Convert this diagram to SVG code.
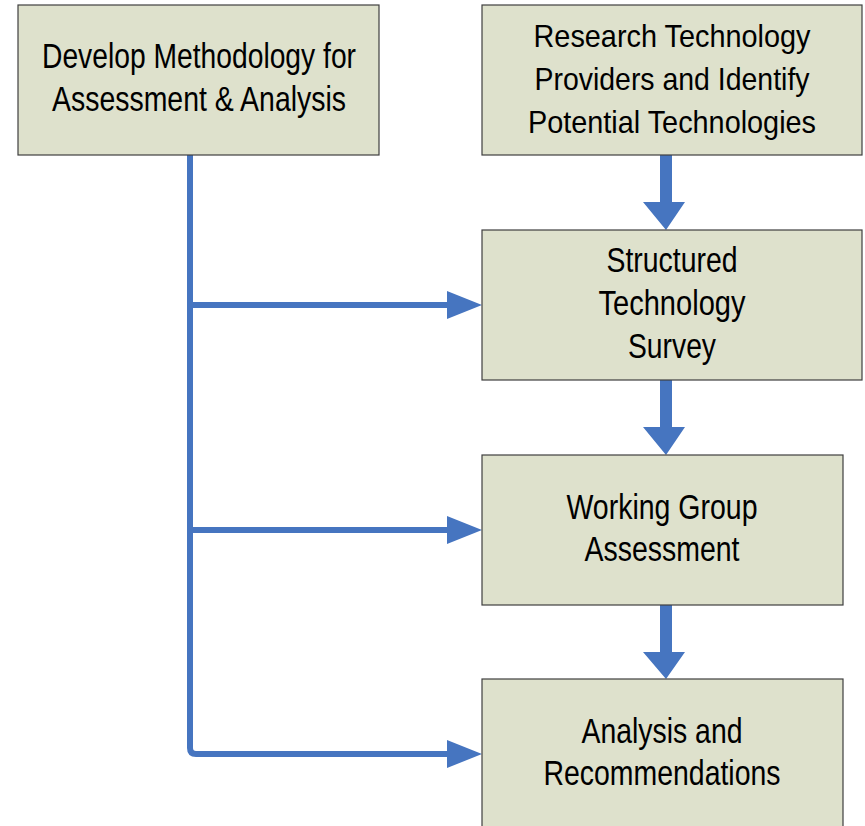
<svg xmlns="http://www.w3.org/2000/svg" width="865" height="826" viewBox="0 0 865 826">
  <style>
    .box { fill: #DEE1CC; stroke: #3F3F3F; stroke-width: 1.2; }
    .lbl { font-family: "Liberation Sans", Arial, sans-serif; font-size: 35px; fill: #000; text-anchor: middle; }
    .sm { font-size: 32px; }
    .line { fill: none; stroke: #4675C0; stroke-width: 6; stroke-linejoin: round; }
    .flow { fill: #4675C0; }
  </style>
  <rect width="865" height="826" fill="#FFFFFF"/>

  <g id="connectors">
    <!-- feeder line from the methodology box with three branches -->
    <path class="line" d="M190,155 V748 Q190,754 196,754 H450"/>
    <path class="line" d="M190,305 H450"/>
    <path class="line" d="M190,530 H450"/>
    <polygon class="flow" points="447,291 482,305 447,319"/>
    <polygon class="flow" points="447,516 482,530 447,544"/>
    <polygon class="flow" points="447,740 482,754 447,768"/>
    <!-- thick downward arrows between the stacked steps -->
    <polygon class="flow" points="660,155 672,155 672,202 685,202 666,230 643,202 660,202"/>
    <polygon class="flow" points="660,380 672,380 672,427 685,427 666,455 643,427 660,427"/>
    <polygon class="flow" points="660,605 672,605 672,652 685,652 666,679 643,652 660,652"/>
  </g>

  <g id="methodology">
    <rect class="box" x="18" y="5" width="361" height="150"/>
    <text class="lbl" x="199" y="68" textLength="314" lengthAdjust="spacingAndGlyphs">Develop Methodology for</text>
    <text class="lbl" x="199" y="111" textLength="294" lengthAdjust="spacingAndGlyphs">Assessment &amp; Analysis</text>
  </g>

  <g id="research">
    <rect class="box" x="482" y="5" width="380" height="150"/>
    <text class="lbl sm" x="672" y="47" textLength="277" lengthAdjust="spacingAndGlyphs">Research Technology</text>
    <text class="lbl sm" x="672" y="90" textLength="275" lengthAdjust="spacingAndGlyphs">Providers and Identify</text>
    <text class="lbl sm" x="672" y="133" textLength="288" lengthAdjust="spacingAndGlyphs">Potential Technologies</text>
  </g>

  <g id="survey">
    <rect class="box" x="482" y="230" width="380" height="150"/>
    <text class="lbl" x="672" y="272" textLength="131" lengthAdjust="spacingAndGlyphs">Structured</text>
    <text class="lbl" x="672" y="315" textLength="147" lengthAdjust="spacingAndGlyphs">Technology</text>
    <text class="lbl" x="672" y="358" textLength="88" lengthAdjust="spacingAndGlyphs">Survey</text>
  </g>

  <g id="assessment">
    <rect class="box" x="482" y="455" width="361" height="150"/>
    <text class="lbl" x="662" y="519" textLength="191" lengthAdjust="spacingAndGlyphs">Working Group</text>
    <text class="lbl" x="662" y="561" textLength="155" lengthAdjust="spacingAndGlyphs">Assessment</text>
  </g>

  <g id="recommendations">
    <rect class="box" x="482" y="679" width="361" height="160"/>
    <text class="lbl" x="662" y="743" textLength="161" lengthAdjust="spacingAndGlyphs">Analysis and</text>
    <text class="lbl" x="662" y="785" textLength="237" lengthAdjust="spacingAndGlyphs">Recommendations</text>
  </g>
</svg>
